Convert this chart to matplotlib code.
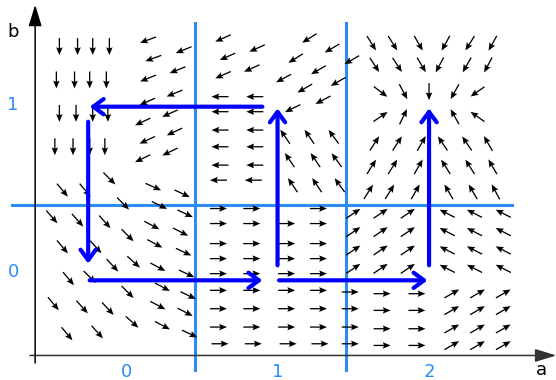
import numpy as np
import matplotlib
matplotlib.use("Agg")
import matplotlib.pyplot as plt
from matplotlib.patches import FancyArrowPatch

# tick labels / region borders
xtick_vals = [0, 1, 2]
ytick_vals = [0, 1]
border_x = [0.452, 1.45]
border_y = 0.40

# small arrows: centre x, centre y, screen angle (deg), one block per region
tl_down_x = [-0.44, -0.32, -0.22, -0.11, -0.46, -0.34, -0.24, -0.13,
             -0.44, -0.33, -0.22, -0.12, -0.47, -0.35, -0.24, -0.14]
tl_down_y = [1.35, 1.35, 1.35, 1.35, 1.15, 1.15, 1.15, 1.15,
             0.95, 0.95, 0.95, 0.95, 0.75, 0.75, 0.75, 0.75]
tl_down_a = [-90] * 16

tl_sw_x = [0.145, 0.38, 0.18, 0.34, 0.145, 0.32, 0.14, 0.29, 0.11, 0.32, 0.14, 0.29, 0.11]
tl_sw_y = [1.39, 1.33, 1.28, 1.21, 1.16, 1.07, 1.02, 0.95, 0.90, 0.84, 0.79, 0.72, 0.68]
tl_sw_a = [200, 202, 200, 202, 202, 202, 204, 204, 205, 205, 205, 206, 206]

bl_se_x = [-0.11, -0.42, -0.27, 0.18, 0.37, -0.02, 0.22,
           -0.49, -0.32, -0.14, 0.17, 0.39, 0.36, 0.01,
           -0.42, -0.20, 0.19, 0.38,
           -0.09, 0.05, 0.21, 0.40,
           -0.38, -0.24, 0.01, 0.24, 0.41,
           -0.48, -0.29, -0.12, 0.21, 0.39,
           0.04, 0.24, 0.42, -0.39, -0.19]
bl_se_y = [0.56, 0.49, 0.49, 0.51, 0.47, 0.41, 0.40,
           0.33, 0.31, 0.30, 0.28, 0.35, 0.24, 0.22,
           0.15, 0.15, 0.17, 0.12,
           0.04, 0.06, 0.03, -0.01,
           -0.04, -0.03, -0.12, -0.09, -0.14,
           -0.19, -0.21, -0.22, -0.20, -0.24,
           -0.30, -0.32, -0.37, -0.37, -0.36]
bl_se_a = [-45, -50, -50, -24, -25, -45, -26,
           -49, -48, -48, -28, -25, -27, -45,
           -50, -48, -28, -25,
           -47, -42, -28, -25,
           -50, -45, -45, -28, -25,
           -50, -48, -47, -28, -27,
           -42, -28, -25, -50, -48]

tm_sw_x = [0.64, 0.865, 0.67, 0.83, 0.64]
tm_sw_y = [1.40, 1.34, 1.29, 1.22, 1.18]
tm_sw_a = [204, 204, 204, 204, 204]

tm_ssw_x = [1.21, 1.36, 1.12, 1.27, 1.04, 1.40, 1.18, 1.30, 1.10, 1.49]
tm_ssw_y = [1.40, 1.34, 1.28, 1.21, 1.16, 1.14, 1.10, 1.03, 0.98, 1.27]
tm_ssw_a = [212, 210, 212, 210, 208, 210, 210, 208, 206, 210]

mm_w_x = [0.62, 0.85, 0.62, 0.85, 0.62, 0.85, 0.62, 0.85, 0.62, 0.85, 0.61, 0.84]
mm_w_y = [1.05, 1.05, 0.96, 0.96, 0.85, 0.85, 0.75, 0.75, 0.64, 0.64, 0.55, 0.55]
mm_w_a = [180] * 12

mm_nw_x = [1.05, 1.21, 1.37, 1.08, 1.25, 1.39, 1.10, 1.26, 1.41]
mm_nw_y = [0.81, 0.81, 0.81, 0.67, 0.67, 0.67, 0.52, 0.52, 0.52]
mm_nw_a = [124, 124, 126, 124, 124, 126, 124, 124, 126]

east_x = [0.61, 0.83, 1.27,
          0.61, 0.83, 1.06, 1.27, 0.61, 0.83, 1.06, 1.27,
          0.61, 0.83, 1.06, 1.27, 0.61, 0.83, 1.06, 1.27,
          0.61, 0.83, 1.06, 1.27, 1.48, 1.69, 1.92,
          0.61, 0.83, 1.06, 1.27, 1.48, 1.69, 1.92,
          0.61, 0.83, 1.06, 1.27, 1.48, 1.69, 1.92,
          0.62, 0.84, 1.07, 1.28, 1.48, 1.69, 1.92]
east_y = [0.38, 0.38, 0.38,
          0.29, 0.29, 0.29, 0.29, 0.17, 0.17, 0.17, 0.17,
          0.08, 0.08, 0.08, 0.08, -0.01, -0.01, -0.01, -0.01,
          -0.11, -0.11, -0.11, -0.11, -0.12, -0.13, -0.13,
          -0.22, -0.22, -0.22, -0.22, -0.22, -0.23, -0.23,
          -0.33, -0.33, -0.33, -0.33, -0.33, -0.34, -0.34,
          -0.43, -0.43, -0.43, -0.43, -0.43, -0.44, -0.44]
east_a = [0] * 47

br_ne_x = [1.50, 1.68, 1.86, 1.50, 1.68, 1.86, 1.50, 1.68, 1.86, 1.50, 1.68, 1.86]
br_ne_y = [0.35, 0.35, 0.35, 0.24, 0.24, 0.24, 0.13, 0.13, 0.13, 0.02, 0.02, 0.02]
br_ne_a = [34] * 12

br_nw_x = [2.12, 2.30, 2.49, 2.12, 2.30, 2.49, 2.12, 2.30, 2.49, 2.12, 2.30, 2.49]
br_nw_y = [0.35, 0.35, 0.35, 0.24, 0.24, 0.24, 0.13, 0.13, 0.13, 0.02, 0.02, 0.02]
br_nw_a = [153] * 12

br_flat_x = [2.15, 2.32, 2.49, 2.15, 2.32, 2.49, 2.15, 2.32, 2.49, 2.15, 2.32, 2.49]
br_flat_y = [-0.13, -0.13, -0.13, -0.23, -0.23, -0.23, -0.34, -0.34, -0.34, -0.44, -0.44, -0.44]
br_flat_a = [30] * 12

tr_x = [1.62, 1.76, 1.93, 2.11, 2.27, 2.42,
        1.64, 1.79, 1.95, 2.07, 2.25, 2.39,
        1.68, 1.83, 2.00, 2.17, 2.32,
        1.68, 1.83, 2.17, 2.32,
        1.64, 1.79, 1.95, 2.09, 2.25, 2.39,
        1.62, 1.76, 1.93, 2.11, 2.27, 2.42,
        1.60, 1.74, 1.91, 2.13, 2.29, 2.44]
tr_y = [1.37] * 6 + [1.24] * 6 + [1.08] * 5 + [0.93] * 4 + [0.77] * 6 + [0.63] * 6 + [0.48] * 6
tr_a = [-58, -58, -60, -119, -122, -119,
        -57, -57, -59, -118, -120, -118,
        -37, -62, -90, -119, -145,
        34, 64, 119, 145,
        57, 57, 60, 124, 124, 120,
        58, 58, 60, 122, 122, 120,
        58, 58, 60, 120, 120, 118]

# big blue path arrows (start, end)
path_start = [(-0.25, 0.90), (0.90, 0.99), (1.00, 0.04), (2.00, 0.04), (-0.24, -0.05), (1.01, -0.05)]
path_end = [(-0.25, 0.05), (-0.24, 0.99), (1.00, 0.98), (2.00, 0.98), (0.90, -0.05), (1.99, -0.05)]

fig = plt.figure(figsize=(5.56, 3.8), dpi=100)
ax = fig.add_axes([0, 0, 1, 1])
ax.set_xlim(-0.832, 2.838)
ax.set_ylim(-0.647, 1.629)
ax.axis('off')

light = '#2a8cf4'

# region borders
for bx in border_x:
	ax.plot([bx, bx], [-0.59, 1.49], color=light, lw=2.2, zorder=1)
ax.plot([-0.75, 2.55], [border_y, border_y], color=light, lw=2.2, zorder=1)

# axes with arrow heads
ax.annotate('', xy=(2.84, -0.50), xytext=(-0.634, -0.50),
	arrowprops=dict(arrowstyle='-|>,head_length=1.3,head_width=0.4', lw=1.1, color='#333333',
		shrinkA=0, shrinkB=0))
ax.annotate('', xy=(-0.60, 1.60), xytext=(-0.60, -0.545),
	arrowprops=dict(arrowstyle='-|>,head_length=1.3,head_width=0.4', lw=1.1, color='black',
		shrinkA=0, shrinkB=0))
ax.text(2.74, -0.585, 'a', fontsize=13, ha='center', va='center')
ax.text(-0.745, 1.44, 'b', fontsize=13, ha='center', va='center')

for v in xtick_vals:
	ax.text(v, -0.60, str(v), color=light, fontsize=13, ha='center', va='center')
for v in ytick_vals:
	ax.text(-0.745, v, str(v), color=light, fontsize=13, ha='center', va='center')

# vector field
xs = np.array(tl_down_x + tl_sw_x + bl_se_x + tm_sw_x + tm_ssw_x + mm_w_x + mm_nw_x
	+ east_x + br_ne_x + br_nw_x + br_flat_x + tr_x)
ys = np.array(tl_down_y + tl_sw_y + bl_se_y + tm_sw_y + tm_ssw_y + mm_w_y + mm_nw_y
	+ east_y + br_ne_y + br_nw_y + br_flat_y + tr_y)
angs = np.radians(np.array(tl_down_a + tl_sw_a + bl_se_a + tm_sw_a + tm_ssw_a + mm_w_a + mm_nw_a
	+ east_a + br_ne_a + br_nw_a + br_flat_a + tr_a))
ax.quiver(xs, ys, np.cos(angs), np.sin(angs), angles='uv', pivot='middle',
	units='inches', scale_units='inches', scale=1 / 0.17, width=0.013,
	headwidth=5, headlength=6, headaxislength=5.2, color='black', zorder=2)

# path arrows
for s, e in zip(path_start, path_end):
	arr = FancyArrowPatch(s, e, arrowstyle='->,head_length=0.75,head_width=0.55',
		mutation_scale=10, lw=3, color='#0000ff', shrinkA=0, shrinkB=0, zorder=3)
	ax.add_patch(arr)

fig.savefig('out.png', dpi=100)
